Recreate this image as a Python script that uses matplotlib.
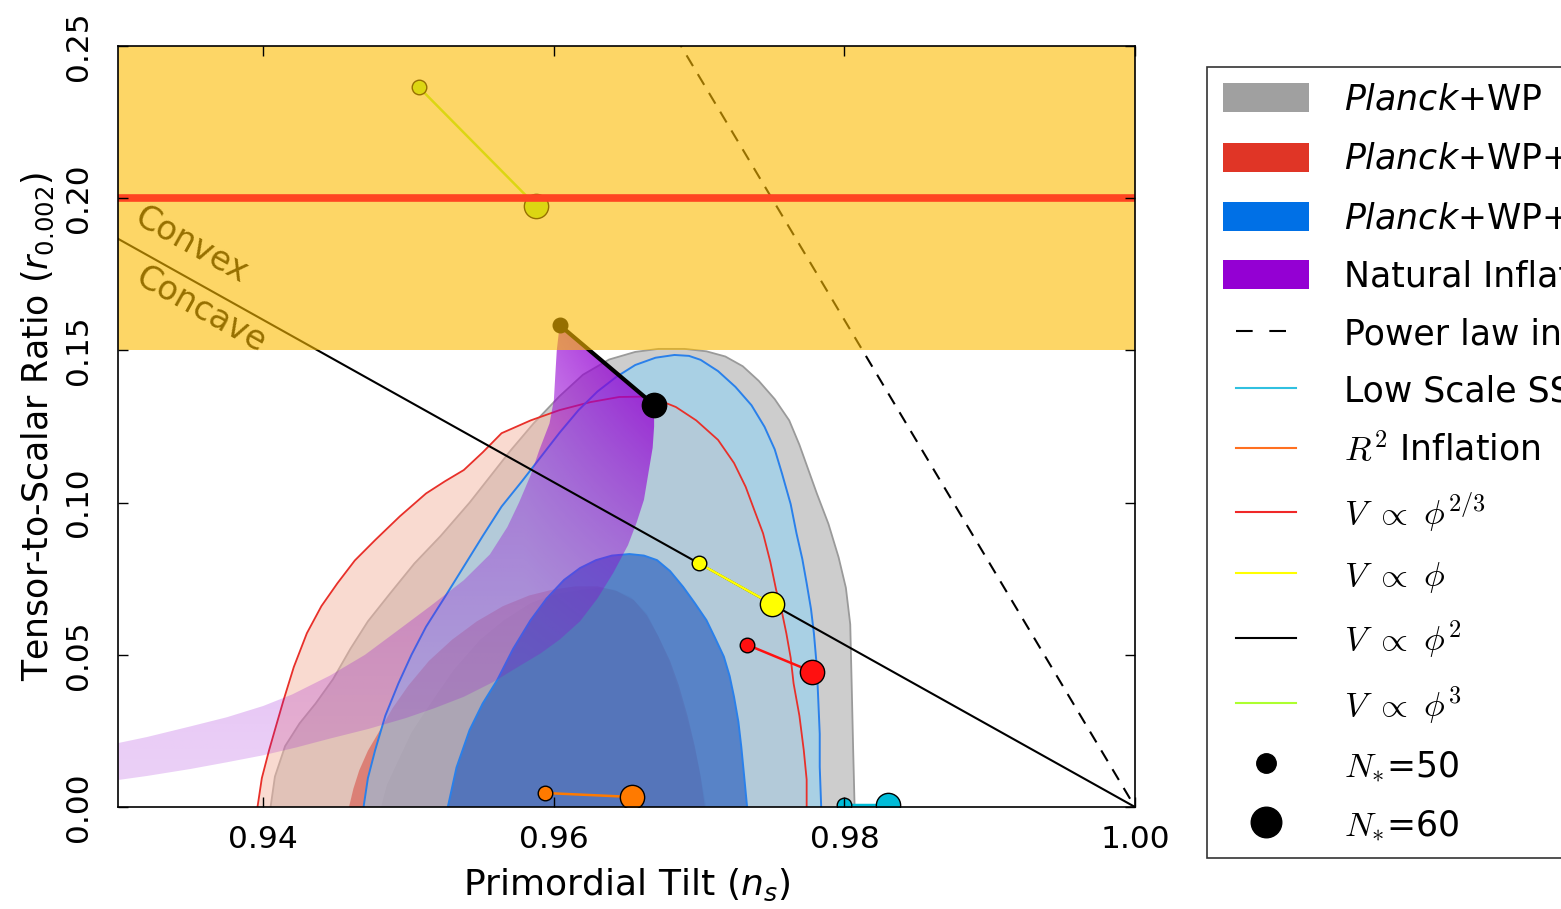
import numpy as np
import matplotlib
matplotlib.use("Agg")
import matplotlib.pyplot as plt
from matplotlib.patches import Patch, Polygon
from matplotlib.lines import Line2D
from matplotlib.legend_handler import HandlerLine2D

# ---- contour outlines (ns, r) ----
grey95_ns = [0.9405, 0.9408, 0.9415, 0.9425, 0.9436, 0.9448, 0.9460, 0.9472, 0.9487, 0.9504,
             0.9522, 0.9542, 0.9556, 0.9570, 0.9586, 0.9604, 0.9620, 0.9638, 0.9656, 0.9672,
             0.9690, 0.9705, 0.9718, 0.9730, 0.9741, 0.9752, 0.9762, 0.9769, 0.9775, 0.9781,
             0.9789, 0.9796, 0.9801, 0.9804, 0.9805, 0.9806, 0.9807]
grey95_r = [0.0, 0.0100, 0.0200, 0.0275, 0.0340, 0.0420, 0.0520, 0.0610, 0.0700, 0.0800,
            0.0890, 0.1000, 0.1085, 0.1170, 0.1260, 0.1350, 0.1420, 0.1470, 0.1495, 0.1505,
            0.1505, 0.1497, 0.1480, 0.1448, 0.1400, 0.1340, 0.1270, 0.1190, 0.1110, 0.1030,
            0.0930, 0.0820, 0.0720, 0.0600, 0.0400, 0.0190, 0.0]

grey68_ns = [0.9481, 0.9485, 0.9492, 0.9502, 0.9515, 0.9531, 0.9549, 0.9566, 0.9584, 0.9601,
             0.9618, 0.9630, 0.9641, 0.9653, 0.9664, 0.9672, 0.9680, 0.9687, 0.9694, 0.9700,
             0.9705]
grey68_r = [0.0, 0.0072, 0.0144, 0.0245, 0.0340, 0.0450, 0.0549, 0.0615, 0.0670, 0.0700,
            0.0713, 0.0720, 0.0715, 0.0690, 0.0636, 0.0560, 0.0473, 0.0370, 0.0253, 0.0130,
            0.0]

red95_ns = [0.9396, 0.9399, 0.9404, 0.9409, 0.9414, 0.9421, 0.9430, 0.9440, 0.9451, 0.9463,
            0.9477, 0.9494, 0.9512, 0.9525, 0.9538, 0.9551, 0.9564, 0.9584, 0.9604, 0.9625,
            0.9645, 0.9660, 0.9672, 0.9684, 0.9698, 0.9713, 0.9724, 0.9732, 0.9738, 0.9744,
            0.9749, 0.9753, 0.9757, 0.9760, 0.9763, 0.9765, 0.9769, 0.9772, 0.9774, 0.9774]
red95_r = [0.0, 0.0095, 0.0187, 0.0270, 0.0352, 0.0460, 0.0571, 0.0660, 0.0735, 0.0810,
           0.0877, 0.0955, 0.1030, 0.1070, 0.1107, 0.1165, 0.1228, 0.1270, 0.1304, 0.1330,
           0.1347, 0.1348, 0.1337, 0.1314, 0.1270, 0.1206, 0.1130, 0.1052, 0.0975, 0.0899,
           0.0805, 0.0713, 0.0640, 0.0571, 0.0490, 0.0406, 0.0300, 0.0187, 0.0090, 0.0]

red68_ns = [0.9459, 0.9462, 0.9466, 0.9472, 0.9480, 0.9489, 0.9500, 0.9514, 0.9530, 0.9547,
            0.9565, 0.9583, 0.9600, 0.9615, 0.9630, 0.9643, 0.9655, 0.9664, 0.9672, 0.9680,
            0.9686, 0.9692, 0.9697, 0.9701, 0.9704]
red68_r = [0.0, 0.0060, 0.0120, 0.0185, 0.0250, 0.0325, 0.0400, 0.0480, 0.0550, 0.0610,
           0.0660, 0.0695, 0.0715, 0.0725, 0.0725, 0.0710, 0.0680, 0.0630, 0.0560, 0.0480,
           0.0400, 0.0300, 0.0200, 0.0100, 0.0]

blue95_ns = [0.9469, 0.9472, 0.9477, 0.9484, 0.9493, 0.9502, 0.9512, 0.9525, 0.9538, 0.9551,
             0.9564, 0.9578, 0.9591, 0.9604, 0.9617, 0.9630, 0.9643, 0.9656, 0.9670, 0.9683,
             0.9693, 0.9701, 0.9713, 0.9725, 0.9736, 0.9745, 0.9752, 0.9757, 0.9763, 0.9767,
             0.9771, 0.9774, 0.9777, 0.9779, 0.9781, 0.9782, 0.9783, 0.9783, 0.9784]
blue95_r = [0.0, 0.0095, 0.0187, 0.0300, 0.0406, 0.0500, 0.0592, 0.0690, 0.0790, 0.0890,
            0.0987, 0.1070, 0.1150, 0.1230, 0.1304, 0.1365, 0.1413, 0.1452, 0.1476, 0.1485,
            0.1482, 0.1469, 0.1432, 0.1380, 0.1320, 0.1249, 0.1175, 0.1096, 0.0995, 0.0899,
            0.0815, 0.0735, 0.0650, 0.0570, 0.0460, 0.0351, 0.0240, 0.0132, 0.0]

blue68_ns = [0.9527, 0.9533, 0.9542, 0.9551, 0.9561, 0.9572, 0.9584, 0.9595, 0.9607, 0.9618,
             0.9629, 0.9640, 0.9652, 0.9662, 0.9671, 0.9680, 0.9689, 0.9697, 0.9705, 0.9711,
             0.9717, 0.9721, 0.9724, 0.9727, 0.9729, 0.9731, 0.9733]
blue68_r = [0.0, 0.0130, 0.0253, 0.0340, 0.0417, 0.0520, 0.0614, 0.0685, 0.0746, 0.0785,
            0.0811, 0.0826, 0.0831, 0.0826, 0.0811, 0.0775, 0.0723, 0.0670, 0.0614, 0.0555,
            0.0494, 0.0430, 0.0362, 0.0280, 0.0198, 0.0100, 0.0]

# natural inflation band (left edge top->bottom, then right edge bottom->top)
nat_ns = [0.9604, 0.9602, 0.9601, 0.9600, 0.9597, 0.9590, 0.9584, 0.9576, 0.9568, 0.9556,
          0.9538, 0.9515, 0.9492, 0.9470, 0.9446, 0.9420, 0.9400, 0.9375, 0.9350, 0.9320,
          0.9290,
          0.9290, 0.9320, 0.9350, 0.9375, 0.9400, 0.9423, 0.9446, 0.9472, 0.9498, 0.9518,
          0.9538, 0.9558, 0.9577, 0.9591, 0.9604, 0.9618, 0.9630, 0.9641, 0.9651, 0.9657,
          0.9662, 0.9665, 0.9668, 0.9669, 0.9669]
nat_r = [0.1583, 0.1500, 0.1420, 0.1337, 0.1260, 0.1173, 0.1090, 0.1000, 0.0920, 0.0830,
         0.0745, 0.0660, 0.0578, 0.0500, 0.0432, 0.0370, 0.0332, 0.0295, 0.0265, 0.0230,
         0.0200,
         0.0082, 0.0102, 0.0125, 0.0147, 0.0170, 0.0196, 0.0225, 0.0256, 0.0292, 0.0325,
         0.0362, 0.0410, 0.0465, 0.0505, 0.0550, 0.0610, 0.0685, 0.0770, 0.0860, 0.0935,
         0.1009, 0.1095, 0.1180, 0.1250, 0.1321]

# ---- model predictions, N*=50 then N*=60 ----
phi23_ns = [0.9733, 0.9778]
phi23_r = [0.0533, 0.0444]
phi1_ns = [0.9700, 0.9750]
phi1_r = [0.0800, 0.0667]
phi2_ns = [0.9604, 0.9669]
phi2_r = [0.1583, 0.1321]
phi3_ns = [0.9507, 0.9588]
phi3_r = [0.2365, 0.1974]
r2_ns = [0.9594, 0.9654]
r2_r = [0.0046, 0.0033]
ssb_ns = [0.9800, 0.9830]
ssb_r = [0.0005, 0.0005]

powerlaw_ns = [0.9600, 1.0000]
powerlaw_r = [0.3200, 0.0000]
linear_ns = [0.9300, 1.0000]
linear_r = [0.18667, 0.0000]

bicep_lo, bicep_hi = 0.15, 0.30
bicep_r = 0.20

xticks = [0.94, 0.96, 0.98, 1.00]
yticks = [0.00, 0.05, 0.10, 0.15, 0.20, 0.25]

legend_labels = [
    r"$\mathit{Planck}$+WP",
    r"$\mathit{Planck}$+WP+highL",
    r"$\mathit{Planck}$+WP+BAO",
    "Natural Inflation",
    "Power law inflation",
    "Low Scale SSB SUSY",
    r"$R^2$ Inflation",
    r"$V\ \propto\ \phi^{2/3}$",
    r"$V\ \propto\ \phi$",
    r"$V\ \propto\ \phi^2$",
    r"$V\ \propto\ \phi^3$",
    r"$N_{\ast}$=50",
    r"$N_{\ast}$=60",
]


class ShortLine(HandlerLine2D):
    def create_artists(self, legend, orig_handle, xdescent, ydescent, width, height, fontsize, trans):
        w = width * 0.7
        return super().create_artists(legend, orig_handle, xdescent - (width - w) / 2,
                                      ydescent, w, height, fontsize, trans)


def main():
    plt.rcParams["font.family"] = ["DejaVu Sans"]
    plt.rcParams["mathtext.fontset"] = "dejavusans"

    fig = plt.figure(figsize=(15.61, 9.09), dpi=100)
    ax = fig.add_axes([0.0756, 0.1122, 0.6515, 0.8372])

    def region(ns, r, color, alpha, z, edge=None):
        ax.fill(ns, r, color=color, alpha=alpha, lw=0, zorder=z)
        if edge is not None:
            ax.plot(ns, r, color=edge, lw=1.3, zorder=z + 0.5)

    region(grey95_ns, grey95_r, "#cdcdcd", 1.0, 1, edge="#9a9a9a")
    region(grey68_ns, grey68_r, "#a6a6a6", 1.0, 1.2)
    region(red95_ns, red95_r, (245 / 255, 184 / 255, 165 / 255), 0.52, 2)
    region(red68_ns, red68_r, (215 / 255, 69 / 255, 59 / 255), 0.52, 2.2)
    region(blue95_ns, blue95_r, (135 / 255, 211 / 255, 251 / 255), 0.5, 3)
    region(blue68_ns, blue68_r, (35 / 255, 90 / 255, 190 / 255), 0.63, 3.2)
    ax.plot(red95_ns, red95_r, color="#e8302a", lw=1.3, zorder=4)
    ax.plot(blue95_ns, blue95_r, color="#2a80ea", lw=1.4, zorder=4)
    ax.plot(blue68_ns, blue68_r, color="#2a80ea", lw=1.4, zorder=4)

    # natural inflation: purple band, stronger towards the phi^2 end
    poly = Polygon(np.column_stack([nat_ns, nat_r]), closed=True, fc="none", ec="none")
    ax.add_patch(poly)
    gx = np.linspace(0.925, 0.975, 200)
    gy = np.linspace(0, 0.17, 300)
    t = np.clip(gy / 0.16, 0, 1)[:, None] ** 1.5
    s = np.clip((gx - 0.958) / 0.009, 0, 1)[None, :]
    rgba = np.zeros((len(gy), len(gx), 4))
    rgba[..., 0] = 148 / 255
    rgba[..., 2] = 211 / 255
    rgba[..., 3] = np.clip(0.18 + 0.8 * t * (0.5 + 0.5 * s), 0, 1)
    im = ax.imshow(rgba, extent=(gx[0], gx[-1], gy[0], gy[-1]), origin="lower", aspect="auto",
                   interpolation="bilinear", zorder=5)
    im.set_clip_path(poly)

    # convex / concave boundary and power law
    ax.plot(linear_ns, linear_r, color="k", lw=1.5, zorder=6)
    ax.plot(powerlaw_ns, powerlaw_r, color="k", lw=1.5, ls=(0, (6, 4.5)), zorder=6)
    ax.text(0.93502, 0.1846, "Convex", rotation=-29.2, rotation_mode="anchor",
            ha="center", va="center", fontsize=24, zorder=6)
    ax.text(0.93571, 0.1633, "Concave", rotation=-29.2, rotation_mode="anchor",
            ha="center", va="center", fontsize=24, zorder=6)

    models = [
        (phi23_ns, phi23_r, "#ff1010", 1.8),
        (phi1_ns, phi1_r, "#ffff00", 1.8),
        (phi2_ns, phi2_r, "k", 3.0),
        (phi3_ns, phi3_r, "#adff2f", 1.8),
        (r2_ns, r2_r, "#ff7a00", 1.8),
        (ssb_ns, ssb_r, "#00bcd8", 2.5),
    ]
    for ns, r, c, lw in models:
        ax.plot(ns, r, color=c, lw=lw, zorder=7)
        ax.plot(ns[:1], r[:1], "o", ms=10.5, mfc=c, mec="k", mew=1, zorder=8)
        ax.plot(ns[1:], r[1:], "o", ms=17.5, mfc=c, mec="k", mew=1, zorder=8)

    # BICEP2 band
    ax.axhspan(bicep_lo, bicep_hi, color=(252 / 255, 187 / 255, 0), alpha=0.6, lw=0, zorder=10)
    ax.axhline(bicep_r, color="#ff4422", lw=5.5, zorder=11)

    ax.set_xlim(0.93, 1.00)
    ax.set_ylim(0.0, 0.25)
    ax.set_xticks(xticks)
    ax.set_xticklabels([f"{t:.2f}" for t in xticks])
    ax.set_yticks(yticks)
    ax.set_yticklabels([f"{t:.2f}" for t in yticks], rotation=90, va="center")
    ax.tick_params(direction="in", length=7, width=1, top=True, right=True, labelsize=22.5)
    ax.tick_params(axis="x", pad=13)
    ax.tick_params(axis="y", pad=18)
    ax.xaxis.set_zorder(20)
    ax.yaxis.set_zorder(20)
    for sp in ax.spines.values():
        sp.set_linewidth(1.2)
        sp.set_zorder(20)
    ax.set_xlabel(r"Primordial Tilt ($n_s$)", fontsize=26, labelpad=9)
    ax.set_ylabel(r"Tensor-to-Scalar Ratio ($r_{0.002}$)", fontsize=25, labelpad=6)

    handles = [
        Patch(fc="#a0a0a0", ec="none"),
        Patch(fc="#e03526", ec="none"),
        Patch(fc="#0070e6", ec="none"),
        Patch(fc="#9400d3", ec="none"),
        Line2D([], [], color="k", lw=1.5, ls=(0, (8, 8))),
        Line2D([], [], color="#30c0e0", lw=1.5),
        Line2D([], [], color="#ff7020", lw=1.5),
        Line2D([], [], color="#f02828", lw=1.5),
        Line2D([], [], color="#ffff00", lw=1.5),
        Line2D([], [], color="k", lw=1.5),
        Line2D([], [], color="#adff2f", lw=1.5),
        Line2D([], [], ls="none", marker="o", ms=14, color="k"),
        Line2D([], [], ls="none", marker="o", ms=22, color="k"),
    ]
    leg = fig.legend(handles, legend_labels, loc="upper left", bbox_to_anchor=(0.7732, 0.9263),
                     bbox_transform=fig.transFigure, frameon=True, fancybox=False,
                     fontsize=25, handlelength=2.5, handleheight=0.9, handletextpad=1.0,
                     labelspacing=0.68, borderpad=0.45, borderaxespad=0,
                     handler_map={Line2D: ShortLine()})
    leg.get_frame().set_edgecolor("k")
    leg.get_frame().set_linewidth(1.2)
    # math parts of the model entries in Computer Modern, as in the original
    for txt in leg.get_texts()[6:]:
        txt.set_math_fontfamily("cm")

    fig.savefig("out.png", dpi=100)


if __name__ == "__main__":
    main()
